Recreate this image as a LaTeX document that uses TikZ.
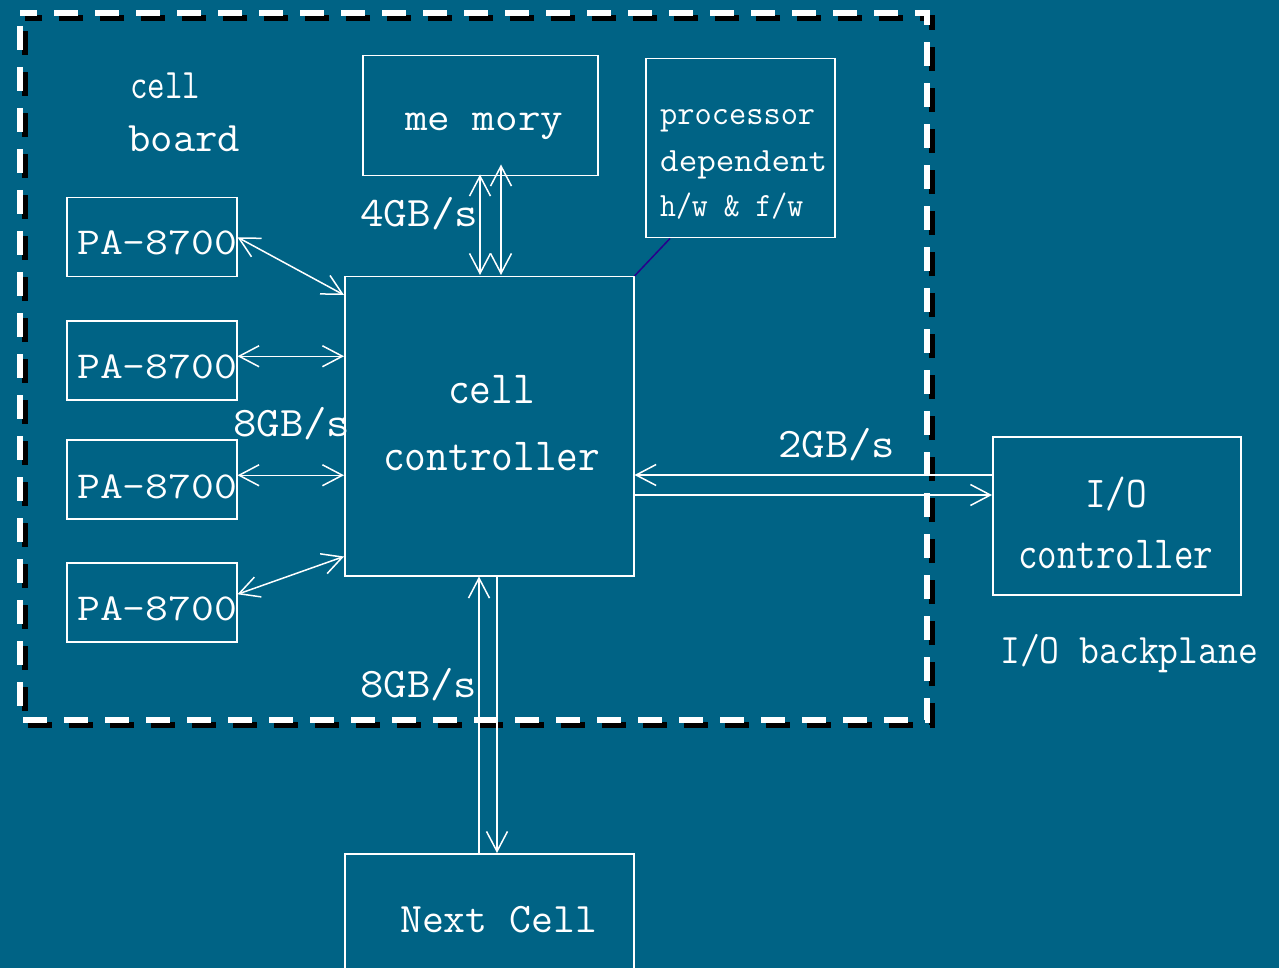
\documentclass[tikz,border=0pt]{standalone}
\usepackage{fontspec}
\usetikzlibrary{arrows.meta,calc}
\definecolor{bg}{RGB}{0,99,133}
\definecolor{navyline}{RGB}{40,0,140}
\newcommand{\fitw}[2]{\resizebox{#1pt}{\height}{#2}}
\newcommand{\fsz}[1]{\fontsize{#1}{#1}\selectfont\ttfamily}
\begin{document}
\begin{tikzpicture}[x=1pt,y=-1pt,
  box/.style={draw=white,line width=1.5pt,inner sep=0pt,anchor=north west},
  lbl/.style={text=white,inner sep=0pt,anchor=base west},
  conn/.style={draw=white,line width=1.5pt},
  barb/.tip={Straight Barb[length=20pt,width=21pt]}]
\useasboundingbox (0,0) rectangle (1279,968);
\fill[bg] (0,0) rectangle (1279,968);
\clip (0,0) rectangle (1279,968);

% dashed cell-board border with shadow
\draw[black,line width=6pt,dash pattern=on 24pt off 17pt,dash phase=28pt] (25,18) rectangle (932,725);
\draw[white,line width=6pt,dash pattern=on 24pt off 17pt,dash phase=28pt] (20,13) rectangle (927,720);

% boxes
\node[box,minimum width=235pt,minimum height=120pt] (mem) at (362,55) {};
\node[box,minimum width=189pt,minimum height=179pt] (proc) at (645,58) {};
\node[box,minimum width=289pt,minimum height=299pt] (cc) at (344,276) {};
\node[box,minimum width=170pt,minimum height=79pt] (pa1) at (66,197) {};
\node[box,minimum width=170pt,minimum height=79pt] (pa2) at (66,320) {};
\node[box,minimum width=170pt,minimum height=79pt] (pa3) at (66,439) {};
\node[box,minimum width=170pt,minimum height=79pt] (pa4) at (66,562) {};
\node[box,minimum width=248pt,minimum height=158pt] (io) at (992,436) {};
\node[box,minimum width=289pt,minimum height=130pt] (nxt) at (344,853) {};

% labels
\node[lbl,font=\fsz{42}] (tcell) at (130,99) {\fitw{70}{cell}};
\node[lbl,font=\fsz{42}] (tboard) at (128,152) {\fitw{112}{board}};
\node[lbl,font=\fsz{40}] (tmem) at (405,131) {\fitw{158}{me mory}};
\node[lbl,font=\fsz{34}] (tp1) at (660,125) {\fitw{155}{processor}};
\node[lbl,font=\fsz{34}] (tp2) at (660,172) {\fitw{167}{dependent}};
\node[lbl,font=\fsz{34}] (tp3) at (660,217) {\fitw{143}{h/w \& f/w}};
\node[lbl,font=\fsz{38}] (tpa1) at (77,255) {\fitw{160}{PA-8700}};
\node[lbl,font=\fsz{38}] (tpa2) at (77,378) {\fitw{160}{PA-8700}};
\node[lbl,font=\fsz{38}] (tpa3) at (77,498) {\fitw{160}{PA-8700}};
\node[lbl,font=\fsz{38}] (tpa4) at (77,620) {\fitw{160}{PA-8700}};
\node[lbl,font=\fsz{42}] (t4gb) at (360,226) {\fitw{118}{4GB/s}};
\node[lbl,font=\fsz{42}] (t8gba) at (233,436) {\fitw{117}{8GB/s}};
\node[lbl,font=\fsz{46}] (tcc1) at (448,403) {\fitw{87}{cell}};
\node[lbl,font=\fsz{46}] (tcc2) at (383,470) {\fitw{217}{controller}};
\node[lbl,font=\fsz{42}] (t2gb) at (778,457) {\fitw{117}{2GB/s}};
\node[lbl,font=\fsz{44}] (tio1) at (1085,507) {\fitw{62}{I/O}};
\node[lbl,font=\fsz{46}] (tio2) at (1018,568) {\fitw{195}{controller}};
\node[lbl,font=\fsz{42}] (tbp) at (1000,663) {\fitw{258}{I/O backplane}};
\node[lbl,font=\fsz{42}] (t8gbb) at (360,697) {\fitw{117}{8GB/s}};
\node[lbl,font=\fsz{42}] (tnext) at (400,932) {\fitw{197}{Next Cell}};

% processor-dependent link
\coordinate (pl) at ($(proc.south west)+(25,0)$);
\draw[navyline,line width=1.5pt] (pl) -- (cc.north east);

% PA links
\draw[conn,{barb}-{barb}] (pa1.east) -- ($(cc.north west)+(0,19)$);
\draw[conn,{barb}-{barb}] ($(pa2.east)+(0,-4)$) -- ($(pa2.east -| cc.west)+(0,-4)$);
\draw[conn,{barb}-{barb}] ($(pa3.east)+(0,-4)$) -- ($(pa3.east -| cc.west)+(0,-4)$);
\draw[conn,{barb}-{barb}] ($(pa4.east)+(0,-8)$) -- ($(cc.south west)+(0,-20)$);

% memory links
\draw[conn,{barb}-{barb}] ($(mem.south west)+(118,-2)$) -- ($(cc.north west)+(136,-1)$);
\draw[conn,{barb}-{barb}] ($(mem.south west)+(139,-12)$) -- ($(cc.north west)+(157,-1)$);

% next cell links
\draw[conn,{barb}-] ($(cc.south west)+(135,0)$) -- ($(nxt.north west)+(135,0)$);
\draw[conn,-{barb}] ($(cc.south west)+(153,0)$) -- ($(nxt.north west)+(153,0)$);

% I/O links
\draw[conn,-{barb}] ($(io.north west)+(0,39)$) -- ($(cc.north east)+(0,199)$);
\draw[conn,-{barb}] ($(cc.north east)+(0,219)$) -- ($(io.north west)+(0,59)$);
\end{tikzpicture}
\end{document}
